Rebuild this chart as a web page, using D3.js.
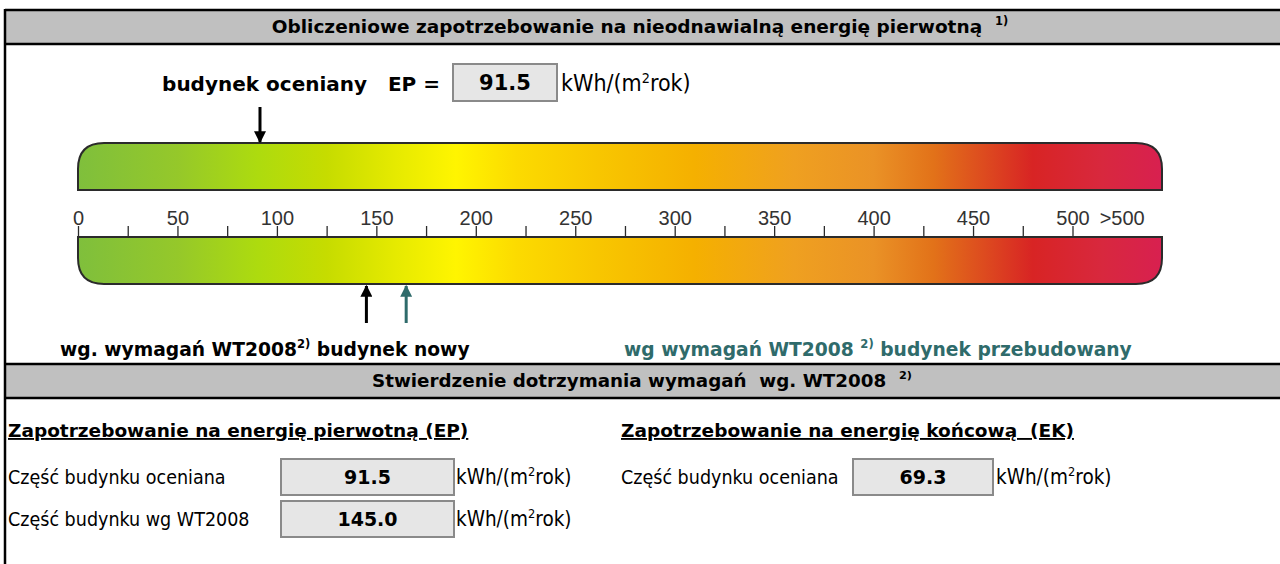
<!DOCTYPE html>
<html>
<head>
<meta charset="utf-8">
<script src="https://cdn.jsdelivr.net/npm/d3@7"></script>
<style>
body { margin: 0; background: white; }
text { font-family: "DejaVu Sans Condensed", "DejaVu Sans", sans-serif; }
text.b { font-family: "DejaVu Sans", sans-serif; font-weight: bold; }
.tick text { font-family: "Liberation Sans", Arial, sans-serif; }
</style>
</head>
<body>
<svg id="chart" width="1280" height="564"></svg>
<script>

var epAssessed = 91.5;
var epNewWT2008 = 145.0;
var epRebuiltWT2008 = 165;
var ekAssessed = 69.3;

var majorTicks = [0, 50, 100, 150, 200, 250, 300, 350, 400, 450, 500];
var minorTicks = [25, 75, 125, 175, 225, 275, 325, 375, 425, 475];
var overLabel = ">500";
var overLabelAt = 525;
var scaleMax = 545;

// gradient stops along the scale (value, colour)
var stopValues = [0, 50, 90, 125, 160, 190, 220, 260, 310, 360, 400, 430, 460, 480, 515, 545];
var stopColors = ["#7fbf3c", "#95c82a", "#addb0f", "#c6dc00", "#e6ea00", "#fff500", "#fcdb00",
                  "#f8c700", "#f5b000", "#efa020", "#ea9226", "#e27219", "#dc4420", "#d82424", "#d8283e", "#d82050"];

var teal = "#2f6b6b";

var svg = d3.select("#chart");

var x = d3.scaleLinear().domain([0, scaleMax]).range([78, 1162]);

var defs = svg.append("defs");
var grad = defs.append("linearGradient")
    .attr("id", "scaleGrad")
    .attr("gradientUnits", "userSpaceOnUse")
    .attr("x1", x(0)).attr("x2", x(scaleMax))
    .attr("y1", 0).attr("y2", 0);
grad.selectAll("stop")
  .data(stopValues)
  .enter().append("stop")
    .attr("offset", function(d) { return d / scaleMax; })
    .attr("stop-color", function(d, i) { return stopColors[i]; });

function marker(id, color) {
  defs.append("marker")
      .attr("id", id)
      .attr("viewBox", "0 0 10 10")
      .attr("refX", 9).attr("refY", 5)
      .attr("markerWidth", 4).attr("markerHeight", 4)
      .attr("markerUnits", "strokeWidth")
      .attr("orient", "auto")
    .append("path")
      .attr("d", "M0,0 L10,5 L0,10 z")
      .attr("fill", color);
}
marker("arrBlack", "black");
marker("arrTeal", teal);

// frame + header bands
function band(y0, y1) {
  svg.append("rect").attr("x", 5).attr("y", y0).attr("width", 1280).attr("height", y1 - y0)
     .attr("fill", "#c0c0c0");
  svg.append("line").attr("x1", 5).attr("x2", 1280).attr("y1", y0).attr("y2", y0)
     .attr("stroke", "black").attr("stroke-width", 2.5);
  svg.append("line").attr("x1", 5).attr("x2", 1280).attr("y1", y1).attr("y2", y1)
     .attr("stroke", "black").attr("stroke-width", 2.5);
}
band(10, 44);
band(364, 398);
svg.append("line").attr("x1", 5).attr("x2", 5).attr("y1", 9).attr("y2", 564)
   .attr("stroke", "black").attr("stroke-width", 2.5);

function supText(sel, parts) {
  // parts: [text, isSup, backDown]
  parts.forEach(function(p) {
    var t = sel.append("tspan").text(p[0]);
    if (p[1]) t.attr("dy", -8).attr("font-size", "0.62em");
    else if (p[2]) t.attr("dy", 8);
  });
}

var h1 = svg.append("text").attr("class", "b").attr("x", 640).attr("y", 33)
  .attr("text-anchor", "middle").attr("font-size", 18.5);
supText(h1, [["Obliczeniowe zapotrzebowanie na nieodnawialną energię pierwotną\u00a0 "], ["1)", true]]);

var h2 = svg.append("text").attr("class", "b").attr("x", 642).attr("y", 387)
  .attr("text-anchor", "middle").attr("font-size", 18.3);
supText(h2, [["Stwierdzenie dotrzymania wymagań\u00a0 wg. WT2008\u00a0 "], ["2)", true]]);

// EP value at the top
svg.append("text").attr("class", "b").attr("x", 440).attr("y", 91)
  .attr("text-anchor", "end").attr("font-size", 20)
  .text("budynek oceniany\u00a0\u00a0 EP =");

function valueBox(x0, y0, w, h, v, fs) {
  svg.append("rect").attr("x", x0).attr("y", y0).attr("width", w).attr("height", h)
     .attr("fill", "#e6e6e6").attr("stroke", "#8a8a8a").attr("stroke-width", 2);
  svg.append("text").attr("class", "b").attr("x", x0 + w / 2).attr("y", y0 + h / 2 + fs * 0.36)
     .attr("text-anchor", "middle").attr("font-size", fs).text(d3.format(".1f")(v));
}

function unit(x0, y0, fs) {
  var t = svg.append("text").attr("x", x0).attr("y", y0).attr("font-size", fs);
  supText(t, [["kWh/(m"], ["2", true], ["rok)", false, true]]);
}

valueBox(453, 64, 104, 37, epAssessed, 21);
unit(561, 91, 23);

// the two coloured bars
var barTop = 143, barMid1 = 190, axisY = 237, barBot = 284, r = 26;
var x0 = x(0), x1 = x(scaleMax);

svg.append("path")
  .attr("d", "M" + x0 + "," + barMid1 + " L" + x0 + "," + (barTop + r) +
             " Q" + x0 + "," + barTop + " " + (x0 + r) + "," + barTop +
             " L" + (x1 - r) + "," + barTop +
             " Q" + x1 + "," + barTop + " " + x1 + "," + (barTop + r) +
             " L" + x1 + "," + barMid1 + " Z")
  .attr("fill", "url(#scaleGrad)").attr("stroke", "#2b2b2b").attr("stroke-width", 2);

svg.append("path")
  .attr("d", "M" + x0 + "," + axisY + " L" + x0 + "," + (barBot - r) +
             " Q" + x0 + "," + barBot + " " + (x0 + r) + "," + barBot +
             " L" + (x1 - r) + "," + barBot +
             " Q" + x1 + "," + barBot + " " + x1 + "," + (barBot - r) +
             " L" + x1 + "," + axisY + " Z")
  .attr("fill", "url(#scaleGrad)").attr("stroke", "#2b2b2b").attr("stroke-width", 2);

// scale axis
var axis = d3.axisTop(x)
  .tickValues(majorTicks.concat(minorTicks))
  .tickSize(11)
  .tickPadding(1)
  .tickFormat(function(d) { return majorTicks.indexOf(d) >= 0 ? d : ""; });

var ax = svg.append("g").attr("transform", "translate(0," + axisY + ")").call(axis);
ax.select(".domain").remove();
ax.selectAll(".tick line").attr("stroke", "#2b2b2b").attr("stroke-width", 1.3);
ax.selectAll(".tick text").attr("font-size", 20).attr("fill", "#333");

svg.append("text").attr("x", x(overLabelAt)).attr("y", axisY - 12)
  .attr("text-anchor", "middle").attr("font-size", 20).attr("fill", "#333")
  .style("font-family", "Liberation Sans, Arial, sans-serif")
  .text(overLabel);

// arrows
svg.append("line").attr("x1", x(epAssessed)).attr("x2", x(epAssessed))
  .attr("y1", 107).attr("y2", barTop - 1)
  .attr("stroke", "black").attr("stroke-width", 3).attr("marker-end", "url(#arrBlack)");

svg.append("line").attr("x1", x(epNewWT2008)).attr("x2", x(epNewWT2008))
  .attr("y1", 323).attr("y2", barBot + 2)
  .attr("stroke", "black").attr("stroke-width", 3).attr("marker-end", "url(#arrBlack)");

svg.append("line").attr("x1", x(epRebuiltWT2008)).attr("x2", x(epRebuiltWT2008))
  .attr("y1", 323).attr("y2", barBot + 2)
  .attr("stroke", teal).attr("stroke-width", 3).attr("marker-end", "url(#arrTeal)");

var l1 = svg.append("text").attr("class", "b").attr("x", 60).attr("y", 356).attr("font-size", 18.7);
supText(l1, [["wg. wymagań WT2008"], ["2)", true], [" budynek nowy", false, true]]);

var l2 = svg.append("text").attr("class", "b").attr("x", 624).attr("y", 356)
  .attr("font-size", 18.7).attr("fill", teal);
supText(l2, [["wg wymagań WT2008 "], ["2)", true], [" budynek przebudowany", false, true]]);

// compliance section
svg.append("text").attr("class", "b").attr("x", 8).attr("y", 437).attr("font-size", 18.5)
  .attr("text-decoration", "underline")
  .text("Zapotrzebowanie na energię pierwotną (EP)");
svg.append("text").attr("class", "b").attr("x", 621).attr("y", 437).attr("font-size", 18.5)
  .attr("text-decoration", "underline")
  .text("Zapotrzebowanie na energię końcową\u00a0 (EK)");

svg.append("text").attr("x", 8).attr("y", 484).attr("font-size", 19.5).text("Część budynku oceniana");
valueBox(281, 459, 173, 36, epAssessed, 19);
unit(456, 484, 20.5);

svg.append("text").attr("x", 8).attr("y", 526).attr("font-size", 19.5).text("Część budynku wg WT2008");
valueBox(281, 501, 173, 36, epNewWT2008, 19);
unit(456, 526, 20.5);

svg.append("text").attr("x", 621).attr("y", 484).attr("font-size", 19.5).text("Część budynku oceniana");
valueBox(853, 459, 140, 36, ekAssessed, 19);
unit(996, 484, 20.5);

</script>
</body>
</html>
